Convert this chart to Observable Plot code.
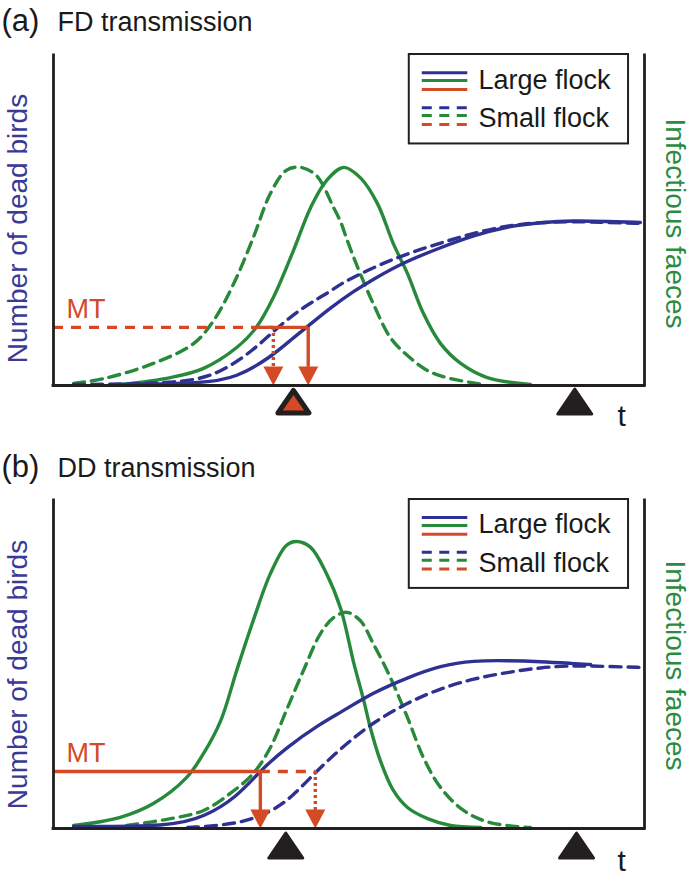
<!DOCTYPE html>
<html><head><meta charset="utf-8">
<script src="https://cdn.jsdelivr.net/npm/d3@7"></script>
<script src="https://cdn.jsdelivr.net/npm/@observablehq/plot@0.6"></script>
<style>body{margin:0;background:#fff} #chart svg{display:block}</style>
</head><body><div id="chart"></div>
<script>
// ---- Data: time t (0–100, arbitrary units) and value (0–100, arbitrary units) ----
// (a) FD transmission
const fdDeadLarge = [[10.8,0.3],[25.4,0.6],[31.0,2.4],[36.7,8.5],[40.6,14.5],[42.8,17.6],[46.9,23.6],[50.8,28.6],[54.1,32.2],[59.2,37.3],[65.5,41.8],[71.1,45.5],[76.8,48.2],[82.4,49.4],[88.0,50.0],[93.7,49.7],[99.3,49.4]];
const fdDeadSmall = [[3.4,0.3],[22.5,0.6],[28.3,3.9],[33.8,10.6],[37.7,17.3],[42.3,23.9],[46.9,28.5],[48.6,30.9],[54.1,35.8],[59.9,40.0],[65.5,43.2],[71.1,46.2],[76.8,48.5],[82.4,49.4],[88.0,49.7],[93.7,49.4],[99.3,49.1]];
const fdFaecesLarge = [[11.3,0.3],[19.8,2.4],[25.4,5.2],[31.0,11.5],[34.3,17.6],[37.2,26.7],[40.6,40.9],[43.5,53.9],[46.2,62.1],[49.1,66.1],[51.9,63.0],[54.8,55.2],[57.5,43.0],[59.9,33.9],[62.6,21.8],[65.5,12.7],[68.9,6.7],[73.4,2.4],[80.7,0.3]];
const fdFaecesSmall = [[3.4,0.6],[8.5,2.1],[16.9,6.7],[23.7,12.7],[27.1,19.7],[30.5,30.9],[33.8,44.8],[36.7,58.2],[39.4,65.2],[41.8,66.1],[44.5,63.6],[47.4,53.9],[48.6,49.5],[49.6,44.5],[50.8,38.8],[51.9,33.9],[54.1,24.8],[57.0,14.5],[59.9,9.1],[63.3,4.5],[67.2,2.1],[72.8,0.3]];
const fdMT = 17.6;
const fdMTDashed = [0, 37.2];
const fdMTSolid = [34.3, 43.1];
const fdArrowSmall = 37.2;
const fdArrowLarge = 43.1;
const fdEvents = [{t: 40.6, mark: "red"}, {t: 88.2, mark: "black"}];

// (b) DD transmission
const ddDeadLarge = [[3.4,0.6],[19.8,0.6],[25.4,3.4],[31.0,9.5],[35.0,17.7],[39.4,24.7],[45.2,32.0],[48.6,35.4],[54.1,41.5],[59.9,46.0],[65.5,49.7],[71.1,51.2],[76.8,51.2],[82.4,50.9],[88.0,50.3],[90.9,50.0]];
const ddDeadSmall = [[22.7,0.3],[31.0,1.2],[36.7,4.9],[40.3,9.5],[44.3,17.1],[47.9,23.2],[50.8,27.6],[54.1,32.3],[59.9,38.4],[65.5,42.7],[71.1,45.7],[76.8,47.6],[82.4,49.1],[88.0,49.7],[93.7,49.4],[99.8,49.1]];
const ddFaecesLarge = [[3.4,0.9],[11.3,3.4],[16.9,7.6],[22.5,15.5],[25.4,22.9],[28.3,32.9],[31.0,48.2],[33.8,63.4],[36.7,77.7],[39.4,86.3],[41.1,87.5],[43.5,85.7],[46.2,77.7],[48.6,67.0],[50.8,50.5],[52.5,39.0],[53.6,30.8],[55.3,20.7],[57.5,11.6],[59.9,6.4],[63.3,3.0],[67.2,0.9],[72.3,0.3]];
const ddFaecesSmall = [[12.4,0.9],[19.8,3.0],[25.4,5.5],[29.9,10.7],[33.8,16.8],[36.7,24.7],[39.4,36.0],[42.3,48.2],[45.2,59.5],[47.4,64.3],[49.6,65.9],[51.9,63.4],[54.1,56.4],[57.0,46.0],[59.9,33.8],[62.6,21.6],[65.5,12.5],[69.4,5.5],[73.9,1.8],[80.7,0.3]];
const ddMT = 17.4;
const ddMTSolid = [0, 35.0];
const ddMTDashed = [35.0, 44.3];
const ddArrowLarge = 35.0;
const ddArrowSmall = 44.3;
const ddEvents = [{t: 39.3, mark: "black"}, {t: 88.5, mark: "black"}];

// ---- Text ----
const panelLabels = ["(a)", "(b)"];
const panelTitles = ["FD transmission", "DD transmission"];
const legendLabels = ["Large flock", "Small flock"];
const leftLabel = "Number of dead birds";
const rightLabel = "Infectious faeces";
const mtLabel = "MT";
const timeLabel = "t";

// ---- Style ----
const FONT = "Liberation Sans, Arial, Helvetica, sans-serif";
const BLUE = "#2e3092", GREEN = "#27893a", RED = "#d44a26", INK = "#231f20";
const BLUE_TXT = "#3a3a96", GREEN_TXT = "#2a8c3e";
const LW = 3.4;

const headDown = {draw(ctx) { ctx.moveTo(0, 0); ctx.lineTo(-10, -19); ctx.lineTo(10, -19); ctx.closePath(); }};
const triUp = {draw(ctx) { ctx.moveTo(0, -12.5); ctx.lineTo(17, 12.5); ctx.lineTo(-17, 12.5); ctx.closePath(); }};
const triUpSmall = {draw(ctx) { ctx.moveTo(0, -11); ctx.lineTo(15.5, 11.5); ctx.lineTo(-15.5, 11.5); ctx.closePath(); }};

// legend layout (in data units)
const LEG = {x1: 60.2, x2: 97.3, y1: 73.2, y2: 100.3, lx1: 62.4, lx2: 70.1, tx: 71.9,
  largeRows: [94.8, 92.4, 89.7], smallRows: [84.2, 81.8, 79.1], textRows: [90.0, 78.2]};

function panel(p) {
  const X = d => d[0], Y = d => d[1];
  const marks = [];
  // curves
  marks.push(Plot.line(p.faecesSmall, {x: X, y: Y, stroke: GREEN, strokeWidth: LW, strokeDasharray: "11,7", curve: "catmull-rom"}));
  marks.push(Plot.line(p.faecesLarge, {x: X, y: Y, stroke: GREEN, strokeWidth: LW, curve: "catmull-rom"}));
  marks.push(Plot.line(p.deadSmall, {x: X, y: Y, stroke: BLUE, strokeWidth: LW, strokeDasharray: "11,7", curve: "basis"}));
  marks.push(Plot.line(p.deadLarge, {x: X, y: Y, stroke: BLUE, strokeWidth: LW, curve: "basis"}));
  // MT lines
  marks.push(Plot.ruleY([p.mt], {x1: p.mtDashed[0], x2: p.mtDashed[1], stroke: RED, strokeWidth: LW, strokeDasharray: "10,8"}));
  marks.push(Plot.ruleY([p.mt], {x1: p.mtSolid[0], x2: p.mtSolid[1], stroke: RED, strokeWidth: LW}));
  // arrows
  marks.push(Plot.ruleX([p.arrowLarge], {y1: p.mt, y2: 5.5, stroke: RED, strokeWidth: LW}));
  marks.push(Plot.ruleX([p.arrowSmall], {y1: p.mt, y2: 5.5, stroke: RED, strokeWidth: LW, strokeDasharray: "3,3"}));
  marks.push(Plot.dot([p.arrowLarge, p.arrowSmall], {x: d => d, y: 0, symbol: headDown, fill: RED, stroke: null}));
  // frame (no top edge)
  marks.push(Plot.ruleX([0, 100], {stroke: INK, strokeWidth: 2.8, strokeLinecap: "square"}));
  marks.push(Plot.ruleY([0], {stroke: INK, strokeWidth: 2.8, strokeLinecap: "square"}));
  // legend
  marks.push(Plot.rect([0], {x1: LEG.x1, x2: LEG.x2, y1: LEG.y1, y2: LEG.y2, fill: "white", stroke: INK, strokeWidth: 2}));
  [BLUE, GREEN, RED].forEach((c, i) => {
    marks.push(Plot.ruleY([LEG.largeRows[i]], {x1: LEG.lx1, x2: LEG.lx2, stroke: c, strokeWidth: 3}));
    marks.push(Plot.ruleY([LEG.smallRows[i]], {x1: LEG.lx1, x2: LEG.lx2, stroke: c, strokeWidth: 3, strokeDasharray: "10,7.5"}));
  });
  marks.push(Plot.text(legendLabels, {x: LEG.tx, y: (d, i) => LEG.textRows[i], text: d => d, textAnchor: "start", lineAnchor: "bottom", fontSize: 27, fill: "#1a1a1a"}));
  // texts
  marks.push(Plot.text([p.label], {text: d => d, frameAnchor: "top-left", dx: -52, dy: p.titleDy, textAnchor: "start", lineAnchor: "bottom", fontSize: 31, fill: "#1a1a1a"}));
  marks.push(Plot.text([p.title], {text: d => d, frameAnchor: "top-left", dx: 4, dy: p.titleDy, textAnchor: "start", lineAnchor: "bottom", fontSize: 27, fill: "#1a1a1a"}));
  marks.push(Plot.text([mtLabel], {text: d => d, x: 0, y: p.mt, dx: 13, dy: -9, textAnchor: "start", lineAnchor: "bottom", fontSize: 27, fill: RED}));
  marks.push(Plot.text([leftLabel], {text: d => d, frameAnchor: "left", dx: -27, dy: p.leftDy, rotate: -90, textAnchor: "middle", lineAnchor: "bottom", fontSize: 28, fill: BLUE_TXT}));
  marks.push(Plot.text([rightLabel], {text: d => d, frameAnchor: "right", dx: 21, dy: p.rightDy, rotate: 90, textAnchor: "middle", lineAnchor: "bottom", fontSize: 28, fill: GREEN_TXT}));
  marks.push(Plot.text([timeLabel], {text: d => d, frameAnchor: "bottom-right", dx: -27, dy: p.tDy, textAnchor: "start", lineAnchor: "bottom", fontSize: 30, fill: "#1a1a1a"}));
  // event triangles below the axis
  marks.push(Plot.dot(p.events.filter(e => e.mark === "black"), {x: "t", frameAnchor: "bottom", dy: p.triDy, symbol: triUp, fill: INK, stroke: INK, strokeWidth: 3, strokeLinejoin: "round"}));
  marks.push(Plot.dot(p.events.filter(e => e.mark === "red"), {x: "t", frameAnchor: "bottom", dy: p.triDy, symbol: triUpSmall, fill: RED, stroke: INK, strokeWidth: 5, strokeLinejoin: "round"}));

  return Plot.plot({
    width: 691, height: p.height,
    marginTop: 55, marginBottom: p.marginBottom, marginLeft: 53, marginRight: 47,
    x: {domain: [0, 100], axis: null},
    y: {domain: [0, 100], axis: null},
    style: {fontFamily: FONT, background: "white", overflow: "visible"},
    marks
  });
}

const chart = document.getElementById("chart");
chart.append(panel({
  label: panelLabels[0], title: panelTitles[0], titleDy: -25,
  deadLarge: fdDeadLarge, deadSmall: fdDeadSmall, faecesLarge: fdFaecesLarge, faecesSmall: fdFaecesSmall,
  mt: fdMT, mtDashed: fdMTDashed, mtSolid: fdMTSolid, arrowLarge: fdArrowLarge, arrowSmall: fdArrowSmall,
  events: fdEvents, height: 445, marginBottom: 60, leftDy: 8, rightDy: 3, tDy: 40, triDy: 16
}));
chart.append(panel({
  label: panelLabels[1], title: panelTitles[1], titleDy: -24,
  deadLarge: ddDeadLarge, deadSmall: ddDeadSmall, faecesLarge: ddFaecesLarge, faecesSmall: ddFaecesSmall,
  mt: ddMT, mtDashed: ddMTDashed, mtSolid: ddMTSolid, arrowLarge: ddArrowLarge, arrowSmall: ddArrowSmall,
  events: ddEvents, height: 437, marginBottom: 54, leftDy: 10, rightDy: 1, tDy: 42, triDy: 17
}));
</script>
</body></html>
